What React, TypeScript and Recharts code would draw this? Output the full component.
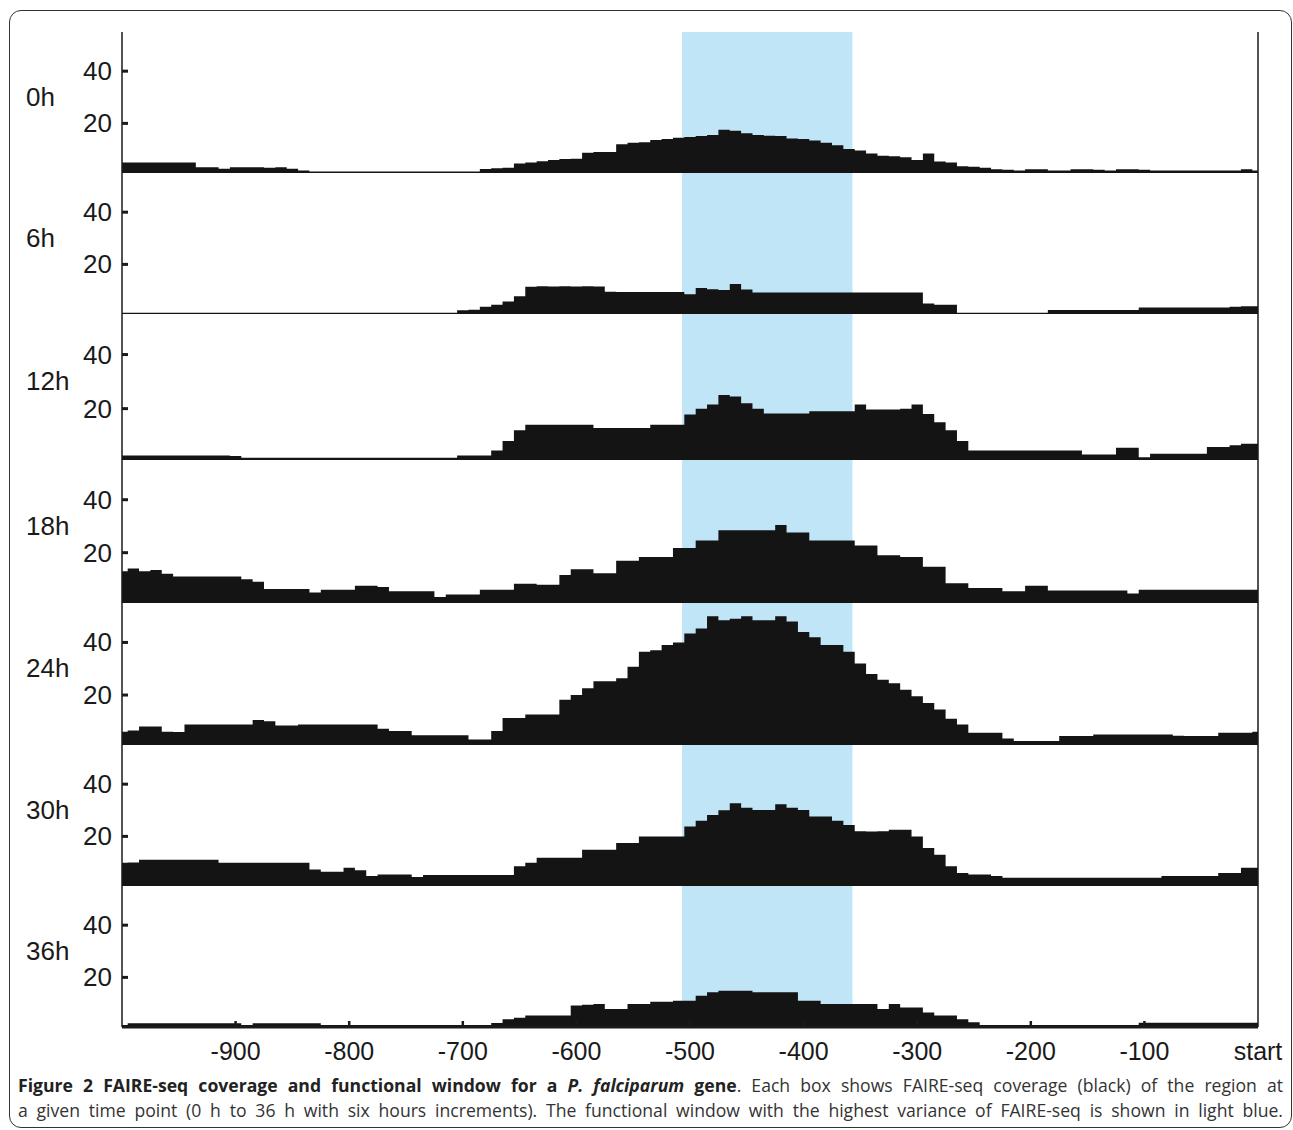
import React from "react";
import { AreaChart, Area, XAxis, YAxis, ReferenceArea } from "recharts";

// bp positions relative to the gene start, sampled every 10 bp
const positions = [
  -1000, -990, -980, -970, -960, -950, -940, -930, -920, -910,
  -900, -890, -880, -870, -860, -850, -840, -830, -820, -810,
  -800, -790, -780, -770, -760, -750, -740, -730, -720, -710,
  -700, -690, -680, -670, -660, -650, -640, -630, -620, -610,
  -600, -590, -580, -570, -560, -550, -540, -530, -520, -510,
  -500, -490, -480, -470, -460, -450, -440, -430, -420, -410,
  -400, -390, -380, -370, -360, -350, -340, -330, -320, -310,
  -300, -290, -280, -270, -260, -250, -240, -230, -220, -210,
  -200, -190, -180, -170, -160, -150, -140, -130, -120, -110,
  -100, -90, -80, -70, -60, -50, -40, -30, -20, -10,
  0,
];

const cov0h = [
  5, 5, 5, 5, 5, 5, 5, 3.2, 3.2, 2.6,
  3.2, 3.2, 3.2, 3, 3.2, 2.6, 2, 1.6, 1.6, 1.6,
  1.6, 1.6, 1.6, 1.6, 1.6, 1.6, 1.6, 1.6, 1.6, 1.6,
  1.6, 1.6, 2.5, 2.8, 3, 4.6, 5, 5.5, 6, 6.4,
  6.5, 8.8, 9, 9, 12, 12.6, 12.8, 13.6, 14, 14.5,
  14.8, 15.2, 15.6, 17.6, 17.2, 16.2, 15.6, 15.3, 15.2, 14.2,
  14, 13.4, 12.6, 11.6, 10.2, 9.6, 8.5, 7.6, 7.4, 7,
  6, 8.5, 5.4, 5, 3.6, 3.4, 3, 2.4, 2.2, 2,
  2.4, 2.4, 2, 2, 2.4, 2.4, 2.2, 2, 2.4, 2.4,
  2.2, 2, 2, 2, 2, 2, 2, 2, 2, 2.4,
  2,
];

const cov6h = [
  1.5, 1.5, 1.5, 1.5, 1.5, 1.5, 1.5, 1.5, 1.5, 1.5,
  1.5, 1.5, 1.5, 1.5, 1.5, 1.5, 1.5, 1.5, 1.5, 1.5,
  1.5, 1.5, 1.5, 1.5, 1.5, 1.5, 1.5, 1.5, 1.5, 1.5,
  2.4, 2.6, 3.8, 4.5, 5.8, 7.8, 11.4, 11.6, 11.5, 11.6,
  11.5, 11.6, 11.5, 9.5, 9.4, 9.4, 9.4, 9.4, 9.4, 9.4,
  8.6, 11, 10.5, 10.2, 12.5, 10.4, 9.2, 9.2, 9.2, 9.2,
  9.2, 9.2, 9.2, 9.2, 9.2, 9.2, 9.2, 9.2, 9.2, 9.2,
  9.2, 5, 4.5, 4.5, 1.5, 1.5, 1.5, 1.5, 1.5, 1.5,
  1.5, 1.5, 2.5, 2.5, 2.5, 2.5, 2.5, 2.5, 2.5, 2.5,
  3.5, 3.5, 3.5, 3.5, 3.5, 3.5, 3.5, 3.5, 3.8, 4,
  4,
];

const cov12h = [
  2.7, 2.7, 2.7, 2.7, 2.7, 2.7, 2.7, 2.7, 2.7, 2.7,
  2.5, 1.8, 1.8, 1.8, 1.8, 1.8, 1.8, 1.8, 1.8, 1.8,
  1.8, 1.8, 1.8, 1.8, 1.8, 1.8, 1.8, 1.8, 1.8, 1.8,
  2.7, 2.7, 2.7, 4.5, 8, 12, 14, 14, 14, 14,
  14, 14, 12.8, 12.8, 12.8, 12.8, 12.8, 14, 14, 14,
  17.8, 20, 21.5, 25, 24.5, 22, 20, 18.2, 18.2, 18.2,
  18.2, 19, 19, 19, 19, 21.5, 19.7, 19.7, 19.7, 20,
  21.5, 18, 15, 12, 8, 4.5, 4.5, 4.5, 4.5, 4.5,
  4.5, 4.5, 4.5, 4.5, 4.5, 3, 3, 3, 5.5, 5.5,
  2, 3.3, 3.3, 3.3, 3.3, 3.3, 5.8, 5.8, 6.5, 7,
  7,
];

const cov18h = [
  13, 14, 13, 13.5, 12, 11, 11, 11, 11, 11,
  11, 10, 9, 6.3, 6.3, 6.3, 6.3, 5, 6, 6,
  6, 7.5, 7.5, 7, 5.4, 5.4, 5.4, 5.4, 3.3, 4.2,
  4.2, 4.2, 6, 6, 6, 8.3, 8.3, 7.9, 7.9, 11.6,
  13.7, 13.7, 12.2, 12.2, 17, 17, 18.4, 18.4, 18.4, 21.8,
  21.8, 24.6, 24.6, 28.5, 28.5, 28.5, 28.5, 28.5, 30.5, 27.6,
  27.6, 24.6, 24.6, 24.6, 24.6, 22.7, 22.7, 19, 19, 18.4,
  18.4, 14.7, 14.7, 8.5, 8.5, 6.7, 6.7, 6.7, 5.4, 5.4,
  7.5, 7.5, 5.7, 5.7, 5.7, 5.7, 5.7, 5.7, 5.7, 4.6,
  6, 6, 6, 6, 6, 6, 6, 6, 6, 6,
  6,
];

const cov24h = [
  6, 6.5, 8, 8, 6, 5.9, 8.8, 8.8, 8.8, 8.8,
  8.8, 8.8, 10.5, 10, 8.4, 8.4, 8.8, 8.8, 8.8, 8.8,
  8.8, 8.8, 8.8, 7.2, 6.3, 6.3, 4.7, 4.7, 4.7, 4.7,
  4.7, 3.1, 3.1, 6.3, 11.3, 11.3, 12.6, 12.6, 12.6, 18.2,
  20, 22.6, 25.2, 25.2, 26.4, 30.8, 36.5, 37, 39, 40,
  43.4, 45.3, 50, 48.4, 49, 50, 48.4, 48.4, 50, 48,
  44, 42, 39, 39, 36.5, 32, 28, 25.8, 24.5, 22,
  19.5, 17, 14.5, 11, 8.8, 5.7, 5.7, 5.7, 3.5, 2.5,
  2.5, 2.5, 2.5, 4.4, 4.4, 4.4, 5, 5, 5, 5,
  5, 5, 5, 4.5, 4.4, 4.4, 4.4, 5.7, 5.7, 5.7,
  6,
];

const cov30h = [
  9.9, 10, 11.1, 11.1, 11.1, 11.1, 11.1, 11.1, 11.1, 9.9,
  9.9, 9.9, 9.9, 9.9, 9.9, 9.9, 9.9, 7.3, 6.5, 6.5,
  8, 7, 4.8, 5.4, 5.4, 5.4, 4.4, 5.2, 5.2, 5.2,
  5.2, 5.2, 5.2, 5.2, 5.2, 8.6, 9.9, 11.8, 11.8, 11.8,
  11.8, 14.9, 14.9, 14.9, 17.5, 17.5, 20, 20, 20, 20,
  23.8, 26, 28.2, 30, 32.7, 31, 30.1, 30.1, 32.3, 31,
  30.1, 27.6, 27.6, 26, 24.4, 22, 21.9, 22, 22.5, 22.5,
  20, 15.6, 13, 8.6, 6, 5.4, 5.4, 4.8, 4.2, 4.2,
  4.2, 4.2, 4.2, 4.2, 4.2, 4.2, 4.2, 4.2, 4.2, 4.2,
  4.2, 4.2, 4.8, 4.8, 4.8, 4.8, 4.8, 6, 6, 8,
  8,
];

const cov36h = [
  1.8, 2.4, 2.4, 2.4, 2.4, 2.4, 2.4, 2.4, 2.4, 2.4,
  2.4, 1.8, 2.4, 2.4, 2.4, 2.4, 2.4, 2.4, 1.8, 1.8,
  1.8, 1.8, 1.8, 1.8, 1.8, 1.8, 1.8, 1.8, 1.8, 1.8,
  1.8, 1.8, 1.8, 2.5, 4, 4.5, 5.4, 5.4, 5.4, 5.4,
  9.2, 9.5, 9.8, 7.9, 7.9, 9.8, 9.8, 10.7, 10.7, 11.1,
  11.1, 13, 14.3, 14.9, 14.9, 14.9, 14.3, 14.3, 14.3, 14.3,
  11.1, 11.1, 9.8, 9.8, 9.8, 9.8, 9.8, 7.9, 9.8, 8.5,
  8.5, 6.6, 5.4, 5.4, 4, 2.8, 1.8, 1.8, 1.8, 1.8,
  1.8, 1.8, 1.8, 1.8, 1.8, 1.8, 1.8, 1.8, 1.8, 1.8,
  2.6, 2.6, 2.6, 2.6, 2.6, 2.6, 2.6, 2.6, 2.6, 2.6,
  2.6,
];

const panelLabels = ["0h", "6h", "12h", "18h", "24h", "30h", "36h"];
const seriesKeys = ["h0", "h6", "h12", "h18", "h24", "h30", "h36"];
const xTicks = [-900, -800, -700, -600, -500, -400, -300, -200, -100, 0];
const yTicks = [20, 40];
const windowStart = -507;
const windowEnd = -357;

const rows = positions.map((x, i) => ({
  x,
  h0: cov0h[i],
  h6: cov6h[i],
  h12: cov12h[i],
  h18: cov18h[i],
  h24: cov24h[i],
  h30: cov30h[i],
  h36: cov36h[i],
}));

// page y of the panel boundaries
const edges = [32, 173, 314, 460, 603, 745, 886, 1027];
const PAD = 4;
const INK = "#1a1a1a";
const FONT = "'Liberation Sans', Arial, Helvetica, sans-serif";

function LeftTick(props: any) {
  const { x, y, payload } = props;
  return (
    <g>
      <line x1={x + 10} x2={x + 16} y1={y} y2={y} stroke={INK} strokeWidth={3} />
      <text x={x} y={y} textAnchor="end" dominantBaseline="central" fontFamily={FONT} fontSize={26} fill={INK}>
        {payload.value}
      </text>
    </g>
  );
}

function RightTick(props: any) {
  const { x, y } = props;
  return <line x1={x - 6} x2={x} y1={y} y2={y} stroke={INK} strokeWidth={3} />;
}

function TopTick(props: any) {
  const { x, y, payload } = props;
  if (payload.value === 0) return <g />;
  return <line x1={x} x2={x} y1={y} y2={y + 6} stroke={INK} strokeWidth={2.5} />;
}

function BottomTick(props: any) {
  const { x, y, payload } = props;
  const base = y - 15;
  return (
    <g>
      {payload.value !== 0 && <line x1={x} x2={x} y1={base} y2={base - 6} stroke={INK} strokeWidth={2.5} />}
      <text x={x} y={y} dy="0.72em" textAnchor="middle" fontFamily={FONT} fontSize={25} fill={INK}>
        {payload.value === 0 ? "start" : payload.value}
      </text>
    </g>
  );
}

function Panel({ index }: { index: number }) {
  const first = index === 0;
  const last = index === panelLabels.length - 1;
  const plotH = edges[index + 1] - edges[index];
  const bottomH = last ? 50 : 0;
  const label = panelLabels[index];

  return (
    <div style={{ position: "absolute", left: 0, top: edges[index] - PAD }}>
      <AreaChart
        width={1293}
        height={plotH + PAD * 2 + bottomH}
        data={rows}
        margin={{ top: PAD, right: 34, bottom: PAD, left: 26 }}
      >
        <XAxis
          dataKey="x"
          type="number"
          domain={[-1000, 0]}
          ticks={xTicks}
          height={bottomH}
          axisLine={{ stroke: INK, strokeWidth: 3 }}
          tickLine={false}
          tickSize={0}
          tickMargin={15}
          tick={last ? <BottomTick /> : false}
          interval={0}
        />
        {first && (
          <XAxis
            xAxisId="top"
            orientation="top"
            type="number"
            domain={[-1000, 0]}
            ticks={xTicks}
            height={0}
            axisLine={{ stroke: INK, strokeWidth: 1.5 }}
            tickLine={false}
            tickSize={0}
            tickMargin={0}
            tick={<TopTick />}
            interval={0}
          />
        )}
        <YAxis
          type="number"
          domain={[1, 55]}
          ticks={yTicks}
          width={96}
          allowDataOverflow
          axisLine={{ stroke: INK, strokeWidth: 1.5 }}
          tickLine={false}
          tickSize={0}
          tickMargin={10}
          tick={<LeftTick />}
          interval={0}
          label={{
            position: "insideLeft",
            content: (p: any) => (
              <text
                x={p.viewBox.x}
                y={p.viewBox.y + p.viewBox.height * 0.46}
                dominantBaseline="central"
                fontFamily={FONT}
                fontSize={26}
                fill={INK}
              >
                {label}
              </text>
            ),
          }}
        />
        <YAxis
          yAxisId="r"
          orientation="right"
          type="number"
          domain={[1, 55]}
          ticks={yTicks}
          width={1}
          axisLine={{ stroke: INK, strokeWidth: 1.5 }}
          tickLine={false}
          tickSize={0}
          tickMargin={0}
          tick={<RightTick />}
          interval={0}
        />
        <ReferenceArea x1={windowStart} x2={windowEnd} fill="#bfe5f6" fillOpacity={1} stroke="none" />
        <Area
          dataKey={seriesKeys[index]}
          type="step"
          stroke="none"
          fill="#141414"
          fillOpacity={1}
          dot={false}
          activeDot={false}
          isAnimationActive={false}
        />
      </AreaChart>
    </div>
  );
}

export default function App() {
  return (
    <div style={{ position: "absolute", left: 0, top: 0, width: 1293, height: 1130, background: "#fff", overflow: "hidden" }}>
      <div
        style={{
          position: "absolute",
          left: 9,
          top: 10,
          width: 1283,
          height: 1118,
          border: "1.5px solid #333",
          borderRadius: 12,
          boxSizing: "border-box",
        }}
      />
      {panelLabels.map((_, i) => (
        <Panel key={i} index={i} />
      ))}
      <div
        style={{
          position: "absolute",
          left: 18,
          top: 1073,
          width: 1265,
          fontFamily: "'Open Sans', sans-serif",
          fontSize: 17.6,
          lineHeight: "25px",
          color: "#333",
        }}
      >
        <div style={{ textAlign: "justify", textAlignLast: "justify" }}>
          <b style={{ color: "#222" }}>
            Figure 2 FAIRE-seq coverage and functional window for a <i>P. falciparum</i> gene
          </b>
          . Each box shows FAIRE-seq coverage (black) of the region at
        </div>
        <div style={{ textAlign: "justify", textAlignLast: "justify" }}>
          a given time point (0 h to 36 h with six hours increments). The functional window with the highest variance
          of FAIRE-seq is shown in light blue.
        </div>
      </div>
    </div>
  );
}
